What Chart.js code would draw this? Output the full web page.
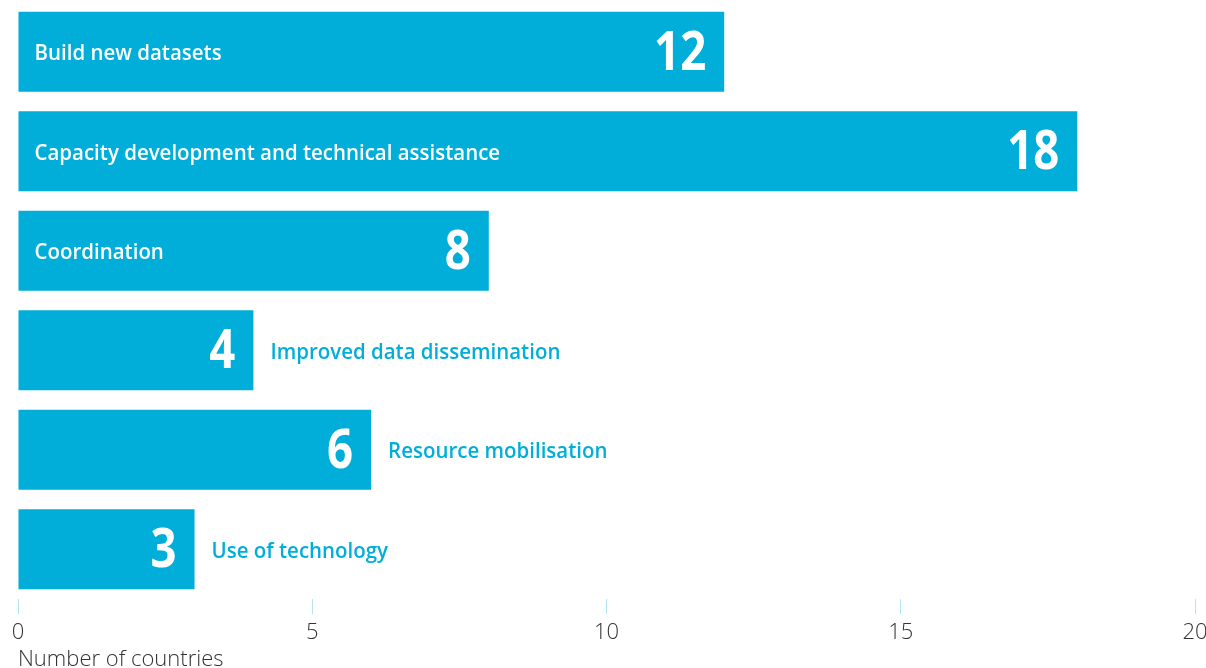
<!DOCTYPE html>
<html>
<head>
<meta charset="utf-8">
<script src="https://cdn.jsdelivr.net/npm/chart.js@4/dist/chart.umd.min.js"></script>
<style>
  html, body { margin: 0; padding: 0; background: #fff; }
  #wrap { width: 1206px; height: 668px; position: relative; }
</style>
</head>
<body>
<div id="wrap"><canvas id="c"></canvas></div>
<script>
const categories = [
  "Build new datasets",
  "Capacity development and technical assistance",
  "Coordination",
  "Improved data dissemination",
  "Resource mobilisation",
  "Use of technology"
]
const values = [12, 18, 8, 4, 6, 3]
const xTicks = [0, 5, 10, 15, 20]

const BLUE = "#00aed9"
const FONT = "'Open Sans', 'Noto Sans', sans-serif"

// the original uses a condensed face, so squeeze the text horizontally a bit
function squeezedText(ctx, text, x, y, align, sx) {
  ctx.save()
  ctx.translate(x, y)
  ctx.scale(sx, 1)
  ctx.textAlign = align
  ctx.fillText(text, 0, 0)
  ctx.restore()
}

// labels inside the bar when it's long enough, otherwise after it
const barLabels = {
  id: "barLabels",
  afterDatasetsDraw(chart) {
    const ctx = chart.ctx
    const meta = chart.getDatasetMeta(0)
    ctx.save()
    ctx.textBaseline = "middle"
    meta.data.forEach((bar, i) => {
      const v = values[i]
      const y = bar.y
      ctx.font = `bold 53px ${FONT}`
      ctx.fillStyle = "#fff"
      squeezedText(ctx, String(v), bar.x - 18, y + 3, "right", 0.86)
      ctx.font = `600 22px ${FONT}`
      if (v >= 8) {
        ctx.fillStyle = "#fff"
        squeezedText(ctx, categories[i], bar.base + 16, y + 2, "left", 0.93)
      } else {
        ctx.fillStyle = BLUE
        squeezedText(ctx, categories[i], bar.x + 17, y + 2, "left", 0.93)
      }
    })
    ctx.restore()
  }
}

new Chart(document.getElementById("c"), {
  type: "bar",
  data: {
    labels: categories,
    datasets: [{
      data: values,
      backgroundColor: BLUE,
      borderWidth: 0,
      barPercentage: 0.805,
      categoryPercentage: 1
    }]
  },
  options: {
    indexAxis: "y",
    responsive: true,
    maintainAspectRatio: false,
    animation: false,
    layout: { padding: { left: 18, right: 0, top: 2, bottom: 0 } },
    plugins: {
      legend: { display: false },
      tooltip: { enabled: false }
    },
    scales: {
      x: {
        min: 0,
        max: 20,
        afterBuildTicks: (scale) => { scale.ticks = xTicks.map((v) => ({ value: v })) },
        // the "20" label is allowed to run to the canvas edge
        afterFit: (scale) => { scale.paddingRight = 11 },
        border: { display: false },
        grid: {
          drawOnChartArea: false,
          drawTicks: true,
          tickLength: 15,
          color: "#b3e2f2",
          lineWidth: 1
        },
        ticks: {
          color: "#333",
          padding: 8,
          maxRotation: 0,
          font: { family: FONT, size: 22, weight: "300", lineHeight: 1 }
        },
        title: {
          display: true,
          text: "Number of countries",
          align: "start",
          color: "#333",
          padding: { top: -3, bottom: -3 },
          font: { family: FONT, size: 22, weight: "300", lineHeight: 1 }
        }
      },
      y: { display: false }
    }
  },
  plugins: [barLabels]
})
</script>
</body>
</html>
